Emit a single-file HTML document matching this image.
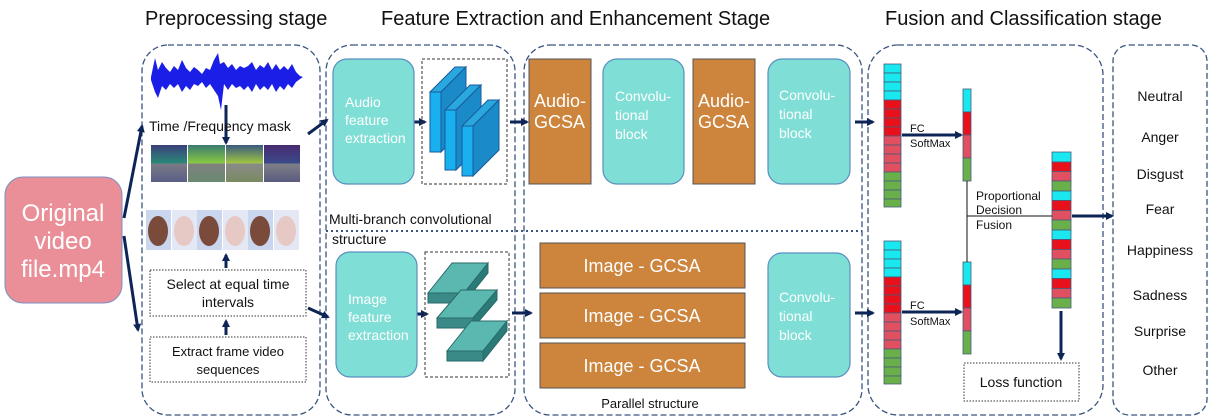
<!DOCTYPE html>
<html><head><meta charset="utf-8"><style>
html,body{margin:0;padding:0;background:#fff;}
svg{display:block;font-family:"Liberation Sans",Arial,sans-serif;}
</style></head><body>
<svg width="1216" height="419" viewBox="0 0 1216 419" xmlns="http://www.w3.org/2000/svg">
<defs>
<marker id="ah" markerWidth="9" markerHeight="9" refX="6" refY="4.5" orient="auto" markerUnits="userSpaceOnUse"><path d="M0,0.5 L8,4.5 L0,8.5 z" fill="#0d2456"/></marker>
<linearGradient id="sp1" x1="0" y1="0" x2="0" y2="1"><stop offset="0" stop-color="#3a3f7a"/><stop offset="0.5" stop-color="#2a8a78"/><stop offset="0.5" stop-color="#7a7a86"/><stop offset="1" stop-color="#5a5f86"/></linearGradient>
<linearGradient id="sp2" x1="0" y1="0" x2="0" y2="1"><stop offset="0" stop-color="#3a7a70"/><stop offset="0.5" stop-color="#8acb40"/><stop offset="0.5" stop-color="#808080"/><stop offset="1" stop-color="#6a8a70"/></linearGradient>
<linearGradient id="sp3" x1="0" y1="0" x2="0" y2="1"><stop offset="0" stop-color="#3a5a80"/><stop offset="0.5" stop-color="#a0c840"/><stop offset="0.5" stop-color="#8a8a8a"/><stop offset="1" stop-color="#7a8a60"/></linearGradient>
<linearGradient id="sp4" x1="0" y1="0" x2="0" y2="1"><stop offset="0" stop-color="#4a2a70"/><stop offset="0.5" stop-color="#3a4a8a"/><stop offset="0.5" stop-color="#808088"/><stop offset="1" stop-color="#5a5a80"/></linearGradient>
</defs>

<g font-size="20" fill="#111">
<text x="145" y="25">Preprocessing stage</text>
<text x="381" y="25">Feature Extraction and Enhancement Stage</text>
<text x="885" y="25">Fusion and Classification stage</text>
</g>

<g fill="none" stroke="#3a5580" stroke-width="1.3" stroke-dasharray="6,3">
<rect x="142" y="45" width="178" height="370" rx="26"/>
<rect x="326" y="45" width="189" height="370" rx="26"/>
<rect x="524" y="45" width="338" height="370" rx="26"/>
<rect x="868" y="45" width="235" height="370" rx="30"/>
<rect x="1113" y="45" width="94" height="370" rx="16"/>
</g>
<line x1="326" y1="231" x2="862" y2="231" stroke="#3a5580" stroke-width="2" stroke-dasharray="2,3"/>

<rect x="5" y="177" width="117" height="126" rx="18" fill="#ea8f98" stroke="#7b8fc0" stroke-width="1"/>
<g fill="#fff" font-size="24" text-anchor="middle">
<text x="63" y="221">Original</text><text x="63" y="249">video</text><text x="63" y="277">file.mp4</text>
</g>

<g stroke="#0d2456" stroke-width="3" fill="none" marker-end="url(#ah)">
<line x1="124" y1="218" x2="142" y2="126"/>
<line x1="124" y1="236" x2="138" y2="330"/>
<line x1="308" y1="134" x2="327" y2="120"/>
<line x1="308" y1="308" x2="328" y2="317"/>
<line x1="226" y1="105" x2="226" y2="143"/>
<line x1="226" y1="268" x2="226" y2="255"/>
<line x1="226" y1="335" x2="226" y2="321"/>
<line x1="409" y1="122" x2="425" y2="122"/>
<line x1="411" y1="314" x2="427" y2="314"/>
<line x1="510" y1="122" x2="527" y2="122"/>
<line x1="512" y1="313" x2="531" y2="313"/>
<line x1="855" y1="122" x2="873" y2="122"/>
<line x1="855" y1="313" x2="873" y2="313"/>
<line x1="902" y1="135" x2="961" y2="135"/>
<line x1="902" y1="312" x2="961" y2="312"/>
<line x1="1072" y1="216" x2="1112" y2="216"/>
<line x1="1061" y1="311" x2="1061" y2="359"/>
</g>

<path fill="#1a1ee6" d="M151,77 L155,58 L158,70 L162,62 L166,68 L170,72 L174,66 L178,70 L182,60 L186,68 L190,72 L194,67 L198,70 L202,74 L206,68 L210,70 L214,60 L218,53 L220,64 L224,62 L228,68 L232,64 L236,70 L240,66 L244,68 L248,66 L252,62 L256,70 L260,65 L264,68 L268,62 L272,70 L276,64 L280,70 L284,66 L288,70 L292,64 L296,72 L300,76 L303,77 L300,79 L296,82 L292,88 L288,84 L284,90 L280,86 L276,92 L272,84 L268,90 L264,86 L260,90 L256,84 L252,92 L248,86 L244,90 L240,86 L236,88 L232,84 L228,90 L224,84 L221,110 L218,96 L214,90 L210,84 L206,88 L202,82 L198,86 L194,84 L190,90 L186,86 L182,92 L178,84 L174,88 L170,84 L166,90 L162,86 L158,98 L155,92 L151,80 Z"/>

<text x="149" y="131" font-size="14" fill="#111">Time /Frequency mask</text>

<rect x="151" y="145" width="36" height="37" fill="url(#sp1)"/>
<rect x="188" y="145" width="37" height="37" fill="url(#sp2)"/>
<rect x="226" y="145" width="37" height="37" fill="url(#sp3)"/>
<rect x="264" y="145" width="36" height="37" fill="url(#sp4)"/>

<g>
<rect x="146" y="210" width="25" height="40" fill="#c9d6ee"/><ellipse cx="158" cy="231" rx="10" ry="15" fill="#7a4a3a"/>
<rect x="172" y="210" width="25" height="40" fill="#e4e8f4"/><ellipse cx="184" cy="231" rx="10" ry="15" fill="#e6c8c4"/>
<rect x="197" y="210" width="25" height="40" fill="#c9d6ee"/><ellipse cx="209" cy="231" rx="10" ry="15" fill="#7a4a3a"/>
<rect x="223" y="210" width="25" height="40" fill="#e4e8f4"/><ellipse cx="235" cy="231" rx="10" ry="15" fill="#e6c8c4"/>
<rect x="248" y="210" width="25" height="40" fill="#c9d6ee"/><ellipse cx="260" cy="231" rx="10" ry="15" fill="#7a4a3a"/>
<rect x="274" y="210" width="25" height="40" fill="#e4e8f4"/><ellipse cx="286" cy="231" rx="10" ry="15" fill="#e6c8c4"/>
</g>

<g fill="none" stroke="#333" stroke-width="1" stroke-dasharray="1.5,1.5">
<rect x="150" y="270" width="156" height="46"/>
<rect x="150" y="337" width="156" height="45"/>
<rect x="422" y="59" width="85" height="125" stroke-dasharray="3,2"/>
<rect x="425" y="252" width="84" height="125" stroke-dasharray="3,2"/>
<rect x="964" y="363" width="115" height="38"/>
</g>
<g font-size="14" fill="#111" text-anchor="middle">
<text x="228" y="289">Select at equal time</text><text x="228" y="307">intervals</text>
<text x="228" y="356" font-size="13">Extract frame video</text><text x="228" y="374" font-size="13">sequences</text>
<text x="1021" y="387">Loss function</text>
</g>

<text x="329" y="224" font-size="14" fill="#111">Multi-branch convolutional</text>
<text x="332" y="244" font-size="14" fill="#111">structure</text>

<g fill="#7fded6" stroke="#5a8fc0" stroke-width="1.2">
<rect x="333" y="59" width="81" height="125" rx="14"/>
<rect x="336" y="252" width="81" height="125" rx="14"/>
<rect x="603" y="59" width="81" height="125" rx="14"/>
<rect x="768" y="59" width="82" height="125" rx="14"/>
<rect x="768" y="253" width="82" height="124" rx="14"/>
</g>
<g fill="#fff" font-size="14">
<text x="345" y="107">Audio</text><text x="345" y="125">feature</text><text x="345" y="143">extraction</text>
<text x="348" y="304">Image</text><text x="348" y="322">feature</text><text x="348" y="340">extraction</text>
<text x="615" y="101">Convolu-</text><text x="615" y="120">tional</text><text x="615" y="139">block</text>
<text x="779" y="100">Convolu-</text><text x="779" y="119">tional</text><text x="779" y="138">block</text>
<text x="779" y="302">Convolu-</text><text x="779" y="321">tional</text><text x="779" y="340">block</text>
</g>

<g stroke="#1a5a9a" stroke-width="1">
<polygon points="430,92 455,67 466,67 441,92" fill="#29a8e0"/><rect x="430" y="92" width="11" height="60" fill="#19b0f0"/><polygon points="441,92 466,67 466,127 441,152" fill="#1a8ac8"/>
<polygon points="445,110 470,85 481,85 456,110" fill="#29a8e0"/><rect x="445" y="110" width="11" height="60" fill="#19b0f0"/><polygon points="456,110 481,85 481,145 456,170" fill="#1a8ac8"/>
<polygon points="462,126 488,100 499,100 473,126" fill="#29a8e0"/><rect x="462" y="126" width="11" height="50" fill="#19b0f0"/><polygon points="473,126 499,100 499,150 473,176" fill="#1a8ac8"/>
</g>
<g stroke="#2a6a6a" stroke-width="1">
<polygon points="428,293 452,263 488,263 464,293" fill="#5ab8b0"/><rect x="428" y="293" width="36" height="10" fill="#3a8a88"/><polygon points="464,293 488,263 488,273 464,303" fill="#2a7a78"/>
<polygon points="437,318 461,290 497,290 473,318" fill="#5ab8b0"/><rect x="437" y="318" width="36" height="10" fill="#3a8a88"/><polygon points="473,318 497,290 497,300 473,328" fill="#2a7a78"/>
<polygon points="447,351 471,321 507,321 483,351" fill="#5ab8b0"/><rect x="447" y="351" width="36" height="10" fill="#3a8a88"/><polygon points="483,351 507,321 507,331 483,361" fill="#2a7a78"/>
</g>

<g fill="#cd843c" stroke="#555" stroke-width="1">
<rect x="529" y="59" width="62" height="125"/>
<rect x="693" y="59" width="62" height="125"/>
<rect x="540" y="243" width="205" height="45"/>
<rect x="540" y="293" width="205" height="45"/>
<rect x="540" y="343" width="205" height="45"/>
</g>
<g fill="#fff" font-size="18">
<text x="534" y="107">Audio-</text><text x="534" y="128">GCSA</text>
<text x="698" y="107">Audio-</text><text x="698" y="128">GCSA</text>
<text x="642" y="272" text-anchor="middle">Image - GCSA</text>
<text x="642" y="322" text-anchor="middle">Image - GCSA</text>
<text x="642" y="372" text-anchor="middle">Image - GCSA</text>
</g>
<text x="650" y="408" font-size="13" fill="#111" text-anchor="middle">Parallel structure</text>

<g stroke="#4a5a7a" stroke-width="0.8">
<rect x="884" y="64" width="17" height="9" fill="#19e8f0"/><rect x="884" y="73" width="17" height="9" fill="#19e8f0"/><rect x="884" y="82" width="17" height="9" fill="#19e8f0"/><rect x="884" y="91" width="17" height="9" fill="#19e8f0"/>
<rect x="884" y="100" width="17" height="9" fill="#e8101a"/><rect x="884" y="109" width="17" height="9" fill="#e8101a"/><rect x="884" y="118" width="17" height="9" fill="#e8101a"/><rect x="884" y="127" width="17" height="9" fill="#e8101a"/>
<rect x="884" y="136" width="17" height="9" fill="#e05060"/><rect x="884" y="145" width="17" height="9" fill="#e05060"/><rect x="884" y="154" width="17" height="9" fill="#e05060"/><rect x="884" y="163" width="17" height="9" fill="#e05060"/>
<rect x="884" y="172" width="17" height="9" fill="#6ab04a"/><rect x="884" y="181" width="17" height="9" fill="#6ab04a"/><rect x="884" y="190" width="17" height="9" fill="#6ab04a"/><rect x="884" y="199" width="17" height="8" fill="#6ab04a"/>

<rect x="884" y="241" width="17" height="9" fill="#19e8f0"/><rect x="884" y="250" width="17" height="9" fill="#19e8f0"/><rect x="884" y="259" width="17" height="9" fill="#19e8f0"/><rect x="884" y="268" width="17" height="9" fill="#19e8f0"/>
<rect x="884" y="277" width="17" height="9" fill="#e8101a"/><rect x="884" y="286" width="17" height="9" fill="#e8101a"/><rect x="884" y="295" width="17" height="9" fill="#e8101a"/><rect x="884" y="304" width="17" height="9" fill="#e8101a"/>
<rect x="884" y="313" width="17" height="9" fill="#e05060"/><rect x="884" y="322" width="17" height="9" fill="#e05060"/><rect x="884" y="331" width="17" height="9" fill="#e05060"/><rect x="884" y="340" width="17" height="9" fill="#e05060"/>
<rect x="884" y="349" width="17" height="9" fill="#6ab04a"/><rect x="884" y="358" width="17" height="9" fill="#6ab04a"/><rect x="884" y="367" width="17" height="9" fill="#6ab04a"/><rect x="884" y="376" width="17" height="8" fill="#6ab04a"/>

<rect x="963" y="89" width="8" height="23" fill="#19e8f0"/><rect x="963" y="112" width="8" height="23" fill="#e8101a"/><rect x="963" y="135" width="8" height="23" fill="#e05060"/><rect x="963" y="158" width="8" height="23" fill="#6ab04a"/>
<rect x="963" y="262" width="8" height="23" fill="#19e8f0"/><rect x="963" y="285" width="8" height="23" fill="#e8101a"/><rect x="963" y="308" width="8" height="23" fill="#e05060"/><rect x="963" y="331" width="8" height="23" fill="#6ab04a"/>

<rect x="1052" y="152" width="19" height="10" fill="#19e8f0"/><rect x="1052" y="162" width="19" height="9.5" fill="#e8101a"/><rect x="1052" y="171.5" width="19" height="9.5" fill="#e05060"/><rect x="1052" y="181" width="19" height="10" fill="#6ab04a"/>
<rect x="1052" y="191" width="19" height="9.5" fill="#19e8f0"/><rect x="1052" y="200.5" width="19" height="10" fill="#e8101a"/><rect x="1052" y="210.5" width="19" height="9.5" fill="#e05060"/><rect x="1052" y="220" width="19" height="10" fill="#6ab04a"/>
<rect x="1052" y="230" width="19" height="9.5" fill="#19e8f0"/><rect x="1052" y="239.5" width="19" height="10" fill="#e8101a"/><rect x="1052" y="249.5" width="19" height="9.5" fill="#e05060"/><rect x="1052" y="259" width="19" height="10" fill="#6ab04a"/>
<rect x="1052" y="269" width="19" height="9.5" fill="#19e8f0"/><rect x="1052" y="278.5" width="19" height="10" fill="#e8101a"/><rect x="1052" y="288.5" width="19" height="9.5" fill="#e05060"/><rect x="1052" y="298" width="19" height="10" fill="#6ab04a"/>
</g>
<line x1="967" y1="181" x2="967" y2="262" stroke="#111" stroke-width="1"/>
<line x1="967" y1="216" x2="1052" y2="216" stroke="#111" stroke-width="1"/>
<g font-size="11" fill="#111">
<text x="910" y="132">FC</text><text x="910" y="147">SoftMax</text>
<text x="910" y="309">FC</text><text x="910" y="325">SoftMax</text>
<text x="976" y="200" font-size="12">Proportional</text><text x="976" y="214" font-size="12">Decision</text><text x="976" y="229" font-size="12">Fusion</text>
</g>

<g font-size="14" fill="#111" text-anchor="middle">
<text x="1160" y="101">Neutral</text><text x="1160" y="142">Anger</text><text x="1160" y="179">Disgust</text><text x="1160" y="214">Fear</text>
<text x="1160" y="255">Happiness</text><text x="1160" y="300">Sadness</text><text x="1160" y="336">Surprise</text><text x="1160" y="375">Other</text>
</g>
</svg>
</body></html>
